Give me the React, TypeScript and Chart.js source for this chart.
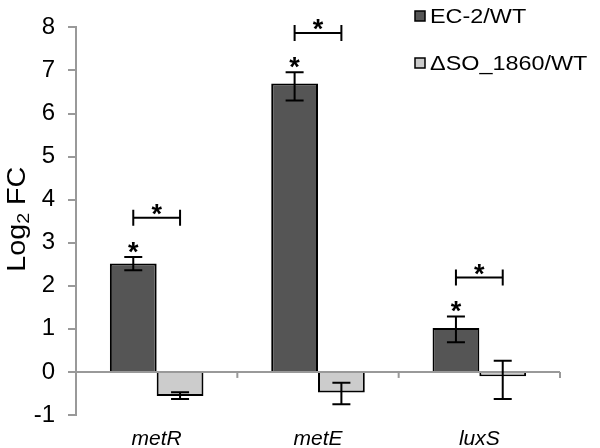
import React, { useEffect, useRef } from "react";
import { Chart, registerables } from "chart.js";

Chart.register(...registerables);

// ---- data ----
const categories = ["metR", "metE", "luxS"];
const seriesLabels = ["EC-2/WT", "\u0394SO_1860/WT"];
const ec2Values = [2.52, 6.7, 1.02];
const ec2ErrUp = [0.15, 0.26, 0.27];
const ec2ErrDown = [0.16, 0.4, 0.33];
const soValues = [-0.56, -0.48, -0.1];
const soErrUp = [0.09, 0.23, 0.36];
const soErrDown = [0.07, 0.27, 0.53];
const ec2Significant = [true, true, true];
const bracketLevels = [3.58, 7.87, 2.19];
const yMin = -1;
const yMax = 8;
const yStep = 1;

const FONT = "'Liberation Sans', Arial, Helvetica, sans-serif";
const DARK = "#555555";
const LIGHT = "#cccccc";
const AXIS = "#999999";

const errUp = [ec2ErrUp, soErrUp];
const errDown = [ec2ErrDown, soErrDown];

const annotations = {
  id: "annotations",
  afterDatasetsDraw(chart: any) {
    const ctx = chart.ctx;
    const ys = chart.scales.y;
    const xs = chart.scales.x;
    ctx.save();
    // category boundary tick marks below zero line
    const y0 = ys.getPixelForValue(0);
    ctx.strokeStyle = AXIS;
    ctx.lineWidth = 2;
    for (let i = 0; i < categories.length; i++) {
      const bx = xs.getPixelForValue(i + 0.5);
      ctx.beginPath();
      ctx.moveTo(bx, y0);
      ctx.lineTo(bx, y0 + 6);
      ctx.stroke();
    }
    // error bars
    ctx.strokeStyle = "#000";
    ctx.lineWidth = 2;
    const cap = 9;
    chart.data.datasets.forEach((ds: any, di: number) => {
      const meta = chart.getDatasetMeta(di);
      meta.data.forEach((el: any, i: number) => {
        const v = ds.data[i];
        const top = ys.getPixelForValue(v + errUp[di][i]);
        const bot = ys.getPixelForValue(v - errDown[di][i]);
        ctx.beginPath();
        ctx.moveTo(el.x, top);
        ctx.lineTo(el.x, bot);
        ctx.moveTo(el.x - cap, top);
        ctx.lineTo(el.x + cap, top);
        ctx.moveTo(el.x - cap, bot);
        ctx.lineTo(el.x + cap, bot);
        ctx.stroke();
      });
    });
    // asterisks and brackets
    const m0 = chart.getDatasetMeta(0);
    const m1 = chart.getDatasetMeta(1);
    ctx.fillStyle = "#000";
    ctx.font = `bold 27px ${FONT}`;
    ctx.textAlign = "center";
    ctx.textBaseline = "alphabetic";
    categories.forEach((_, i) => {
      const xd = m0.data[i].x;
      const xl = m1.data[i].x;
      if (ec2Significant[i]) {
        const t = ys.getPixelForValue(ec2Values[i] + ec2ErrUp[i]);
        ctx.fillText("*", xd, t + 4);
      }
      const by = ys.getPixelForValue(bracketLevels[i]);
      ctx.beginPath();
      ctx.moveTo(xd, by);
      ctx.lineTo(xl, by);
      ctx.moveTo(xd, by - 8);
      ctx.lineTo(xd, by + 8);
      ctx.moveTo(xl, by - 8);
      ctx.lineTo(xl, by + 8);
      ctx.stroke();
      ctx.fillText("*", (xd + xl) / 2, by + 5);
    });
    ctx.restore();
  },
  afterDraw(chart: any) {
    const ctx = chart.ctx;
    const area = chart.chartArea;
    ctx.save();
    // y axis title with subscript
    ctx.fillStyle = "#000";
    ctx.translate(25, (area.top + area.bottom) / 2 - 2);
    ctx.rotate(-Math.PI / 2);
    ctx.scale(1.15, 1);
    ctx.textBaseline = "alphabetic";
    ctx.textAlign = "left";
    const big = `25px ${FONT}`;
    const small = `17px ${FONT}`;
    ctx.font = big;
    const w1 = ctx.measureText("Log").width;
    ctx.font = small;
    const w2 = ctx.measureText("2").width;
    ctx.font = big;
    const w3 = ctx.measureText(" FC").width;
    let x = -(w1 + w2 + w3) / 2;
    ctx.fillText("Log", x, 0);
    x += w1;
    ctx.font = small;
    ctx.fillText("2", x, 4);
    x += w2;
    ctx.font = big;
    ctx.fillText(" FC", x, 0);
    ctx.restore();

    // legend
    ctx.save();
    const fills = [DARK, LIGHT];
    const boxCenters = [16, 63];
    ctx.font = `20px ${FONT}`;
    ctx.textBaseline = "alphabetic";
    ctx.textAlign = "left";
    seriesLabels.forEach((lab, i) => {
      ctx.fillStyle = fills[i];
      ctx.fillRect(415, boxCenters[i] - 5, 10, 10);
      ctx.strokeStyle = "#000";
      ctx.lineWidth = 1.5;
      ctx.strokeRect(415, boxCenters[i] - 5, 10, 10);
      ctx.fillStyle = "#000";
      ctx.save();
      ctx.translate(430, boxCenters[i] + 7);
      ctx.scale(1.17, 1);
      ctx.fillText(lab, 0, 0);
      ctx.restore();
    });
    ctx.restore();
  },
};

export default function App() {
  const ref = useRef<HTMLCanvasElement | null>(null);
  useEffect(() => {
    document.body.style.margin = "0";
    const chart = new Chart(ref.current as HTMLCanvasElement, {
      type: "bar",
      data: {
        labels: categories,
        datasets: [
          {
            label: seriesLabels[0],
            data: ec2Values,
            backgroundColor: DARK,
            borderColor: "#000",
            borderWidth: 2,
            categoryPercentage: 0.58,
            barPercentage: 1,
          },
          {
            label: seriesLabels[1],
            data: soValues,
            backgroundColor: LIGHT,
            borderColor: "#000",
            borderWidth: 2,
            categoryPercentage: 0.58,
            barPercentage: 1,
          },
        ],
      },
      options: {
        responsive: false,
        animation: false,
        layout: { padding: { left: 0, right: 40, top: 17, bottom: 0 } },
        plugins: { legend: { display: false }, tooltip: { enabled: false } },
        scales: {
          x: {
            grid: { display: false },
            border: { display: false },
            ticks: {
              color: "#000",
              padding: 4,
              font: { family: FONT, size: 21, style: "italic" },
            },
            afterFit(s: any) {
              s.height = 33;
            },
          },
          y: {
            min: yMin,
            max: yMax,
            ticks: {
              stepSize: yStep,
              color: "#000",
              padding: 13,
              font: { family: FONT, size: 24 },
            },
            grid: {
              color: (c: any) => (c.tick && c.tick.value === 0 ? AXIS : "transparent"),
              lineWidth: 2,
              tickColor: AXIS,
              tickLength: 8,
              drawTicks: true,
            },
            border: { color: AXIS, width: 2 },
            afterFit(s: any) {
              s.width = 76;
            },
          },
        },
      },
      plugins: [annotations],
    });
    return () => chart.destroy();
  }, []);
  return (
    <div style={{ width: 600, height: 448 }}>
      <canvas ref={ref} width={600} height={448} />
    </div>
  );
}
